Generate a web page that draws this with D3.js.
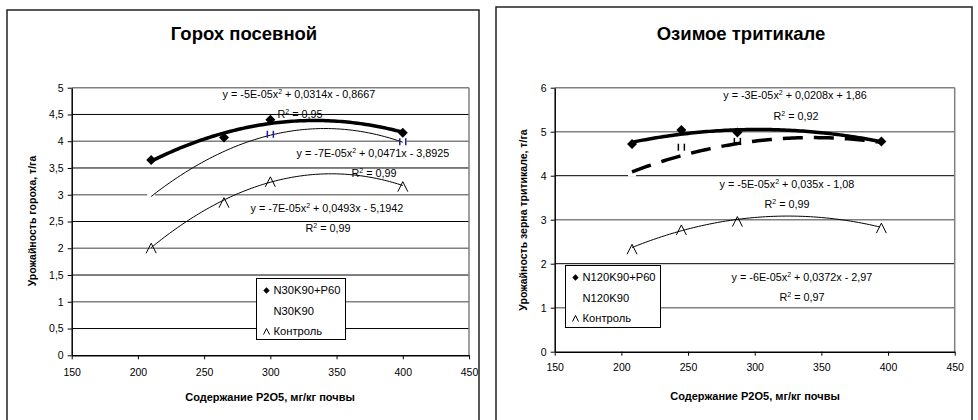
<!DOCTYPE html>
<html>
<head>
<meta charset="utf-8">
<script src="https://cdn.jsdelivr.net/npm/d3@7"></script>
<style>
  body { margin: 0; background: #fff; }
  text { font-family: "Liberation Sans", Arial, sans-serif; fill: #000; }
</style>
</head>
<body>
<div id="chart"></div>
<script>
// Data
// left: pea
const peaX = [210, 265, 300, 400];
const peaNKP = [3.65, 4.07, 4.40, 4.16];   // N30K90+P60
const peaNK = [2.97, 3.80, 4.12, 3.98];    // N30K90
const peaControl = [2.02, 2.87, 3.26, 3.17];
const peaEquations = [
  ["y = -5E-05x", " + 0,0314x - 0,8667", "R", " = 0,95"],
  ["y = -7E-05x", " + 0,0471x - 3,8925", "R", " = 0,99"],
  ["y = -7E-05x", " + 0,0493x - 5,1942", "R", " = 0,99"]
];
const peaSeries = ["N30K90+P60", "N30K90", "Контроль"];

// right: triticale
const tritX = [208, 245, 287, 395];
const tritNKP = [4.72, 5.04, 4.98, 4.78];  // N120K90+P60
const tritNK = [4.07, 4.50, 4.70, 4.76];   // N120K90
const tritControl = [2.35, 2.79, 2.98, 2.83];
const tritEquations = [
  ["y = -3E-05x", " + 0,0208x + 1,86", "R", " = 0,92"],
  ["y = -5E-05x", " + 0,035x - 1,08", "R", " = 0,99"],
  ["y = -6E-05x", " + 0,0372x - 2,97", "R", " = 0,97"]
];
const tritSeries = ["N120K90+P60", "N120K90", "Контроль"];

const xTicks = [150, 200, 250, 300, 350, 400, 450];
const peaYTicks = [0, 0.5, 1, 1.5, 2, 2.5, 3, 3.5, 4, 4.5, 5];
const tritYTicks = [0, 1, 2, 3, 4, 5, 6];

const width = 978, height = 420;
const svg = d3.select("#chart").append("svg")
  .attr("width", width)
  .attr("height", height);

const fmt = v => String(v).replace(".", ",");

// least squares quadratic fit (what the trendline is)
function fitQuad(xs, ys) {
  const m = d3.mean(xs);
  const u = xs.map(x => x - m);
  const S = k => d3.sum(u, v => Math.pow(v, k));
  const T = k => d3.sum(u, (v, i) => Math.pow(v, k) * ys[i]);
  const A = [[S(4), S(3), S(2)], [S(3), S(2), S(1)], [S(2), S(1), xs.length]];
  const b = [T(2), T(1), T(0)];
  for (let i = 0; i < 3; i++) {
    for (let j = i + 1; j < 3; j++) {
      const f = A[j][i] / A[i][i];
      for (let k = i; k < 3; k++) A[j][k] -= f * A[i][k];
      b[j] -= f * b[i];
    }
  }
  const c = [0, 0, 0];
  for (let i = 2; i >= 0; i--) {
    let s = b[i];
    for (let k = i + 1; k < 3; k++) s -= A[i][k] * c[k];
    c[i] = s / A[i][i];
  }
  return x => c[0] * (x - m) ** 2 + c[1] * (x - m) + c[2];
}

function caret(g, s) {
  g.append("path")
    .attr("d", `M${-s},${s} L0,${-s} L${s},${s}`)
    .attr("fill", "none")
    .attr("stroke", "#000")
    .attr("stroke-width", 1);
}

function diamond(g, s) {
  g.append("path")
    .attr("d", `M0,${-s} L${s},0 L0,${s} L${-s},0 Z`)
    .attr("fill", "#000");
}

function supText(g, x, y, a, b) {
  const t = g.append("text")
    .attr("x", x).attr("y", y)
    .attr("text-anchor", "middle")
    .style("font-size", "10.8px");
  t.append("tspan").text(a);
  t.append("tspan").attr("dy", -4.5).style("font-size", "7px").text("2");
  t.append("tspan").attr("dy", 4.5).text(b);
}

function drawPanel(cfg) {
  const g = svg.append("g");

  // outer frame
  g.append("rect")
    .attr("x", cfg.frame[0]).attr("y", cfg.frame[1])
    .attr("width", cfg.frame[2]).attr("height", cfg.frame[3])
    .attr("fill", "none")
    .attr("stroke", "#222")
    .attr("stroke-width", 1.5);

  const x = d3.scaleLinear().domain([150, 450]).range([cfg.plot.left, cfg.plot.right]);
  const y = d3.scaleLinear().domain([0, cfg.yMax]).range([cfg.plot.bottom, cfg.plot.top]);

  // gridlines
  g.append("g").selectAll("line")
    .data(cfg.yTicks.filter(d => d > 0))
    .join("line")
    .attr("x1", x(150)).attr("x2", x(450))
    .attr("y1", d => y(d)).attr("y2", d => y(d))
    .attr("stroke", d => cfg.greyLines.includes(d) ? "#808080" : "#000")
    .attr("stroke-width", d => cfg.greyLines.includes(d) ? 1.5 : 1);

  // plot border right
  g.append("line")
    .attr("x1", x(450)).attr("x2", x(450))
    .attr("y1", y(cfg.yMax)).attr("y2", y(0))
    .attr("stroke", "#808080").attr("stroke-width", 1.5);

  // axes
  const xAxis = g.append("g")
    .attr("transform", `translate(0,${y(0)})`)
    .call(d3.axisBottom(x).tickValues(xTicks).tickSize(4).tickSizeOuter(0).tickPadding(cfg.xPad));
  const yAxis = g.append("g")
    .attr("transform", `translate(${x(150)},0)`)
    .call(d3.axisLeft(y).tickValues(cfg.yTicks).tickFormat(fmt).tickSize(4).tickSizeOuter(0).tickPadding(4));
  [xAxis, yAxis].forEach(a => {
    a.select(".domain").attr("stroke", "#000").attr("stroke-width", 1.5);
    a.selectAll(".tick line").attr("stroke", "#000");
    a.selectAll(".tick text")
      .style("font-family", "'Liberation Sans', Arial, sans-serif")
      .style("font-size", "10.5px")
      .attr("fill", "#000");
  });

  // titles
  g.append("text")
    .attr("x", cfg.titlePos[0]).attr("y", cfg.titlePos[1])
    .attr("text-anchor", "middle")
    .style("font-size", "18.5px").style("font-weight", "bold")
    .text(cfg.title);
  g.append("text")
    .attr("x", cfg.xLabelPos[0]).attr("y", cfg.xLabelPos[1])
    .attr("text-anchor", "middle")
    .style("font-size", "11px").style("font-weight", "bold")
    .text("Содержание Р2О5, мг/кг почвы");
  g.append("text")
    .attr("transform", `translate(${cfg.yLabelPos[0]},${cfg.yLabelPos[1]}) rotate(-90)`)
    .attr("text-anchor", "middle")
    .style("font-size", "10.5px").style("font-weight", "bold")
    .text(cfg.yLabel);

  const xs = cfg.xs;
  const line = d3.line().x(d => x(d[0])).y(d => y(d[1]));
  const curve = vals => {
    const f = fitQuad(xs, vals);
    return d3.range(xs[0], xs[xs.length - 1] + 0.5, 2).map(v => [v, f(v)]);
  };

  // N*K90 markers are white (they only hide the gridlines)
  g.append("g").selectAll("rect")
    .data(xs.map((v, i) => [v, cfg.nk[i]]))
    .join("rect")
    .attr("x", d => x(d[0]) - 4).attr("y", d => y(d[1]) - 4)
    .attr("width", 8).attr("height", 8)
    .attr("fill", "#fff");

  // trendlines
  g.append("path").datum(curve(cfg.control))
    .attr("d", line).attr("fill", "none")
    .attr("stroke", "#000").attr("stroke-width", 1);
  g.append("path").datum(curve(cfg.nk))
    .attr("d", line).attr("fill", "none")
    .attr("stroke", "#000")
    .attr("stroke-width", cfg.nkDashed ? 3.5 : 1)
    .attr("stroke-dasharray", cfg.nkDashed ? "20,11" : null);
  g.append("path").datum(curve(cfg.nkp))
    .attr("d", line).attr("fill", "none")
    .attr("stroke", "#000").attr("stroke-width", 3.5)
    .attr("stroke-linejoin", "round");

  // small marks of the N*K90 points that remain visible
  cfg.nkMarks.forEach(([i, dy]) => {
    const m = g.append("g").attr("transform", `translate(${x(xs[i])},${y(cfg.nk[i]) + dy})`);
    [-3, 3].forEach(dx => m.append("line")
      .attr("x1", dx).attr("x2", dx).attr("y1", -4).attr("y2", 3)
      .attr("stroke", cfg.markColor).attr("stroke-width", 1.5));
  });

  // diamonds
  xs.forEach((v, i) => diamond(g.append("g").attr("transform", `translate(${x(v)},${y(cfg.nkp[i])})`), 5));
  // carets
  xs.forEach((v, i) => caret(g.append("g").attr("transform", `translate(${x(v)},${y(cfg.control[i]) + 1})`), 5));

  // equations
  cfg.eqPos.forEach((p, i) => {
    const e = cfg.equations[i];
    supText(g, p[0], p[1], e[0], e[1]);
    supText(g, p[2], p[3], e[2], e[3]);
  });

  // legend
  const L = cfg.legend;
  const lg = g.append("g").attr("transform", `translate(${L[0]},${L[1]})`);
  lg.append("rect")
    .attr("width", L[2]).attr("height", L[3])
    .attr("fill", "#fff").attr("stroke", "#000").attr("stroke-width", 1);
  cfg.series.forEach((name, i) => {
    const yy = 12 + i * 20.5;
    lg.append("text")
      .attr("x", 17).attr("y", yy).attr("dy", "0.35em")
      .style("font-size", "11.2px")
      .text(name);
    const s = lg.append("g").attr("transform", `translate(10,${yy})`);
    if (i === 0) diamond(s, 3.2);
    if (i === 2) caret(s, 3);
  });
}

drawPanel({
  frame: [7, 10, 472, 420],
  plot: { left: 71.7, right: 469, top: 87.7, bottom: 355.3 },
  yMax: 5,
  yTicks: peaYTicks,
  greyLines: [1, 2, 3, 4, 5],
  xPad: 9,
  xs: peaX, nkp: peaNKP, nk: peaNK, control: peaControl,
  nkDashed: false,
  nkMarks: [[2, 0], [3, 0]],
  markColor: "#1a1aa0",
  title: "Горох посевной",
  titlePos: [244, 40],
  xLabelPos: [270, 401],
  yLabel: "Урожайность гороха, т/га",
  yLabelPos: [36, 221],
  equations: peaEquations,
  eqPos: [[299, 98, 300, 118], [373, 157, 374, 177], [327, 212, 328, 232]],
  series: peaSeries,
  legend: [256.5, 278.5, 89, 61]
});

drawPanel({
  frame: [496, 7, 476, 420],
  plot: { left: 554.7, right: 954.7, top: 87.7, bottom: 351.7 },
  yMax: 6,
  yTicks: tritYTicks,
  greyLines: [1, 3, 5, 6],
  xPad: 8,
  xs: tritX, nkp: tritNKP, nk: tritNK, control: tritControl,
  nkDashed: true,
  nkMarks: [[1, -6], [2, -3]],
  markColor: "#000",
  title: "Озимое тритикале",
  titlePos: [741, 40],
  xLabelPos: [755, 400],
  yLabel: "Урожайность зерна тритикале, т/га",
  yLabelPos: [527, 220],
  equations: tritEquations,
  eqPos: [[795, 99, 796, 120], [787, 188, 787, 208], [802, 281, 802, 301]],
  series: tritSeries,
  legend: [565.5, 265.5, 95, 62]
});
</script>
</body>
</html>
